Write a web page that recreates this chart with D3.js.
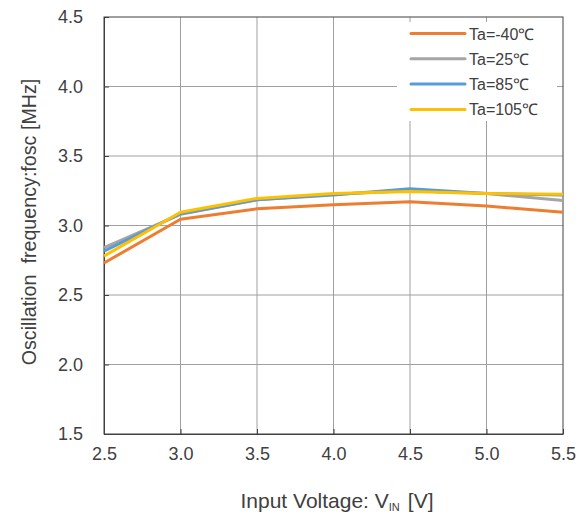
<!DOCTYPE html>
<html>
<head>
<meta charset="utf-8">
<script src="https://cdn.jsdelivr.net/npm/d3@7/dist/d3.min.js"></script>
<style>
  html, body { margin: 0; padding: 0; background: #fff; }
  svg { display: block; font-family: "Liberation Sans", Arial, sans-serif; }
</style>
</head>
<body>
<svg id="chart" width="585" height="518"></svg>
<script>
// Input voltage steps (V)
const voltages = [2.5, 3.0, 3.5, 4.0, 4.5, 5.0, 5.5];

// Oscillation frequency (MHz) per ambient temperature
const seriesNames = ["Ta=-40℃", "Ta=25℃", "Ta=85℃", "Ta=105℃"];
const freqM40  = [2.73, 3.045, 3.12, 3.15, 3.17, 3.14, 3.095];
const freq25   = [2.84, 3.08, 3.185, 3.225, 3.25, 3.23, 3.18];
const freq85   = [2.815, 3.085, 3.185, 3.22, 3.265, 3.23, 3.22];
const freq105  = [2.78, 3.095, 3.195, 3.23, 3.245, 3.23, 3.225];
const seriesColors = ["#ED7D31", "#A5A5A5", "#5B9BD5", "#FFC000"];

const xTicks = [2.5, 3.0, 3.5, 4.0, 4.5, 5.0, 5.5];
const yTicks = [1.5, 2.0, 2.5, 3.0, 3.5, 4.0, 4.5];

const svg = d3.select("#chart");
const m = { left: 104, right: 563, top: 17, bottom: 434 };

const x = d3.scaleLinear().domain([2.5, 5.5]).range([m.left, m.right]);
const y = d3.scaleLinear().domain([1.5, 4.5]).range([m.bottom, m.top]);

// Grid lines
const grid = svg.append("g");
grid.selectAll(".gx").data(xTicks.slice(1, -1)).join("line")
  .attr("x1", d => x(d)).attr("x2", d => x(d))
  .attr("y1", m.top).attr("y2", m.bottom)
  .attr("stroke", "#a0a0a0").attr("stroke-width", 1);
grid.selectAll(".gy").data(yTicks.slice(1, -1)).join("line")
  .attr("x1", m.left).attr("x2", m.right)
  .attr("y1", d => y(d)).attr("y2", d => y(d))
  .attr("stroke", "#a0a0a0").attr("stroke-width", 1);

// Axes with inward ticks
const xAxis = svg.append("g").attr("transform", `translate(0,${m.bottom})`)
  .call(d3.axisBottom(x).tickValues(xTicks).tickFormat(d3.format(".1f"))
    .tickSizeInner(-5).tickSizeOuter(0).tickPadding(13));
const yAxis = svg.append("g").attr("transform", `translate(${m.left},0)`)
  .call(d3.axisLeft(y).tickValues(yTicks).tickFormat(d3.format(".1f"))
    .tickSizeInner(-5).tickSizeOuter(0).tickPadding(21));
[xAxis, yAxis].forEach(a => {
  a.select(".domain").attr("stroke", "#404040");
  a.selectAll(".tick line").attr("stroke", "#404040");
  a.selectAll("text").attr("fill", "#404040").attr("font-size", 18)
    .attr("font-family", "Liberation Sans, Arial, sans-serif");
});

// Frame around the plot area
svg.append("rect")
  .attr("x", m.left).attr("y", m.top)
  .attr("width", m.right - m.left).attr("height", m.bottom - m.top)
  .attr("fill", "none").attr("stroke", "#404040").attr("stroke-width", 1);

// Lines
const allSeries = [freqM40, freq25, freq85, freq105];
const line = d3.line().x((d, i) => x(voltages[i])).y(d => y(d));
svg.append("g").selectAll("path").data(allSeries).join("path")
  .attr("d", d => line(d))
  .attr("fill", "none")
  .attr("stroke", (d, i) => seriesColors[i])
  .attr("stroke-width", 3)
  .attr("stroke-linejoin", "round");

// Legend
const legend = svg.append("g");
legend.append("rect")
  .attr("x", 397).attr("y", 22).attr("width", 160).attr("height", 99)
  .attr("fill", "#fff");
const items = legend.selectAll("g").data(seriesNames).join("g")
  .attr("transform", (d, i) => `translate(0,${33.5 + i * 25.3})`);
items.append("line")
  .attr("x1", 411).attr("x2", 465).attr("y1", 0).attr("y2", 0)
  .attr("stroke", (d, i) => seriesColors[i]).attr("stroke-width", 3)
  .attr("stroke-linecap", "round");
items.append("text")
  .attr("x", 469).attr("y", 6)
  .attr("font-size", 16).attr("fill", "#404040")
  .text(d => d);

// Axis titles
svg.append("text")
  .attr("transform", "translate(29,222) rotate(-90)")
  .attr("text-anchor", "middle").attr("font-size", 19.7).attr("fill", "#404040")
  .attr("dominant-baseline", "central")
  .attr("xml:space", "preserve")
  .text("Oscillation  frequency:fosc [MHz]");

const xt = svg.append("text")
  .attr("x", 337).attr("y", 508)
  .attr("text-anchor", "middle").attr("font-size", 21).attr("fill", "#404040");
xt.append("tspan").text("Input Voltage: V");
xt.append("tspan").attr("font-size", 11).attr("dy", 3).text("IN");
xt.append("tspan").attr("dy", -3).attr("dx", 8).text("[V]");
</script>
</body>
</html>
